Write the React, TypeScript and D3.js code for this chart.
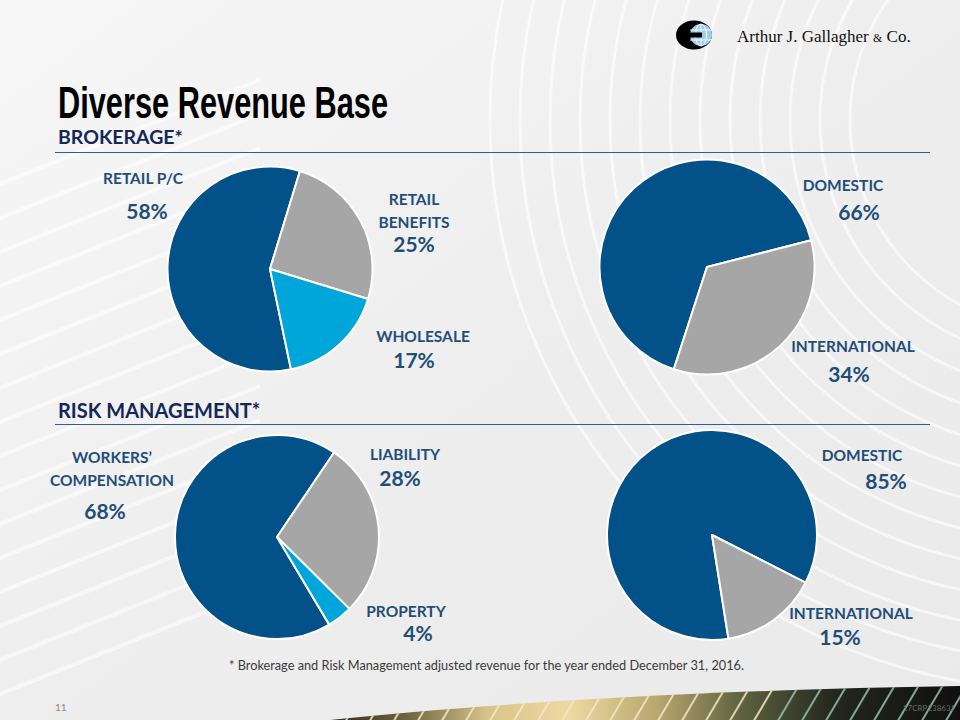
import React from "react";
import * as d3 from "d3";

// ---- data ----
const brokerageLineLabels = ["RETAIL P/C", "RETAIL BENEFITS", "WHOLESALE"];
const brokerageLineValues = [58, 25, 17];
const brokerageGeoLabels = ["DOMESTIC", "INTERNATIONAL"];
const brokerageGeoValues = [66, 34];
const riskLineLabels = ["WORKERS' COMPENSATION", "LIABILITY", "PROPERTY"];
const riskLineValues = [68, 28, 4];
const riskGeoLabels = ["DOMESTIC", "INTERNATIONAL"];
const riskGeoValues = [85, 15];

const BLUE = "#035189";
const GRAY = "#a6a6a6";
const LIGHT = "#00a5da";
const TEXT = "#1f4e79";
const NAVY = "#15285a";

type PieSpec = {
  labels: string[];
  values: number[];
  colors: string[];
  cx: number;
  cy: number;
  r: number;
  start: number; // degrees, clockwise from 12 o'clock
};

const pies: PieSpec[] = [
  { labels: brokerageLineLabels, values: brokerageLineValues, colors: [BLUE, GRAY, LIGHT], cx: 270, cy: 269, r: 102.5, start: 168.2 },
  { labels: brokerageGeoLabels, values: brokerageGeoValues, colors: [BLUE, GRAY], cx: 707, cy: 267, r: 107.5, start: 198 },
  { labels: riskLineLabels, values: riskLineValues, colors: [BLUE, GRAY, LIGHT], cx: 277, cy: 537, r: 102, start: 149.2 },
  { labels: riskGeoLabels, values: riskGeoValues, colors: [BLUE, GRAY], cx: 712, cy: 535, r: 105, start: 171 },
];

type LabelSpec = { pie: number; slice: number; lines: string[]; x: number; y: number; px: number; py: number };
const labelSpecs: LabelSpec[] = [
  { pie: 0, slice: 0, lines: ["RETAIL P/C"], x: 143, y: 184, px: 147, py: 219 },
  { pie: 0, slice: 1, lines: ["RETAIL", "BENEFITS"], x: 414, y: 205, px: 414, py: 252 },
  { pie: 0, slice: 2, lines: ["WHOLESALE"], x: 423, y: 342, px: 414, py: 368 },
  { pie: 1, slice: 0, lines: ["DOMESTIC"], x: 843, y: 191, px: 859, py: 220 },
  { pie: 1, slice: 1, lines: ["INTERNATIONAL"], x: 853, y: 352, px: 849, py: 382 },
  { pie: 2, slice: 0, lines: ["WORKERS\u2019", "COMPENSATION"], x: 112, y: 463, px: 105, py: 519 },
  { pie: 2, slice: 1, lines: ["LIABILITY"], x: 405, y: 460, px: 400, py: 486 },
  { pie: 2, slice: 2, lines: ["PROPERTY"], x: 406, y: 617, px: 418, py: 641 },
  { pie: 3, slice: 0, lines: ["DOMESTIC"], x: 862, y: 461, px: 886, py: 489 },
  { pie: 3, slice: 1, lines: ["INTERNATIONAL"], x: 851, y: 619, px: 840, py: 645 },
];

const LABEL_FONT = "Lato, 'Open Sans', sans-serif";
const SERIF = "'Liberation Serif', 'DejaVu Serif', serif";
const rad = (d: number) => (d * Math.PI) / 180;

function Pie({ spec }: { spec: PieSpec }) {
  const gen = d3
    .pie<number>()
    .sort(null)
    .startAngle(rad(spec.start))
    .endAngle(rad(spec.start + 360));
  const arcs = gen(spec.values);
  const arc = d3.arc<d3.PieArcDatum<number>>().innerRadius(0).outerRadius(spec.r);
  return (
    <g transform={`translate(${spec.cx},${spec.cy})`}>
      {arcs.map((a, i) => (
        <path key={i} d={arc(a) || ""} fill={spec.colors[i]} stroke="#ffffff" strokeWidth={2} strokeLinejoin="round" />
      ))}
    </g>
  );
}

function Background() {
  const arcsR = d3.range(0, 13).map((i) => 210 + i * 30);
  const diag = d3.range(0, 16).map((i) => i * 34);
  const stripes = d3.range(0, 30).map((i) => 320 + i * 24);
  return (
    <g>
      <defs>
        <linearGradient id="bg" x1="0" y1="0" x2="1" y2="1">
          <stop offset="0" stopColor="#f7f7f7" />
          <stop offset="0.5" stopColor="#eeeeee" />
          <stop offset="1" stopColor="#eaeaea" />
        </linearGradient>
        <linearGradient id="band" x1="330" y1="0" x2="960" y2="0" gradientUnits="userSpaceOnUse">
          <stop offset="0" stopColor="#2f2e1c" />
          <stop offset="0.12" stopColor="#6b6440" />
          <stop offset="0.25" stopColor="#d8c38a" />
          <stop offset="0.38" stopColor="#eed9a2" />
          <stop offset="0.52" stopColor="#b8a66e" />
          <stop offset="0.65" stopColor="#5f6442" />
          <stop offset="0.8" stopColor="#23271d" />
          <stop offset="1" stopColor="#101010" />
        </linearGradient>
        <clipPath id="bandClip">
          <path d="M330,720 C480,704 700,690 960,686 L960,720 Z" />
        </clipPath>
      </defs>
      <rect x={0} y={0} width={960} height={720} fill="url(#bg)" />
      <g fill="none" stroke="#ffffff" strokeOpacity={0.6} strokeWidth={3}>
        {arcsR.map((r, i) => (
          <circle key={i} cx={1060} cy={120} r={r} />
        ))}
      </g>
      <g stroke="#ffffff" strokeOpacity={0.55} strokeWidth={4}>
        {diag.map((d, i) => (
          <line key={i} x1={-40} y1={200 + d} x2={260} y2={80 + d} />
        ))}
      </g>
      <path d="M330,720 C480,704 700,690 960,686 L960,720 Z" fill="url(#band)" />
      <g clipPath="url(#bandClip)" strokeOpacity={0.85} strokeWidth={2}>
        {stripes.map((x, i) => (
          <line key={i} x1={x} y1={724} x2={x + 26} y2={680} stroke={x > 760 ? "#8fc2b0" : "#f3e8c4"} />
        ))}
      </g>
    </g>
  );
}

function Logo() {
  return (
    <g>
      <ellipse cx={694} cy={35} rx={18} ry={14.5} fill="#000" />
      <circle cx={701} cy={35} r={11} fill="#9fcdea" />
      <g stroke="#ffffff" strokeWidth={0.9} fill="none">
        <line x1={690} y1={30} x2={712} y2={30} />
        <line x1={690} y1={40} x2={712} y2={40} />
        <line x1={701} y1={24} x2={701} y2={46} />
        <ellipse cx={701} cy={35} rx={5.5} ry={11} />
      </g>
      <rect x={684} y={32.5} width={18} height={5} fill="#000" />
      <text x={737} y={42} fontFamily={SERIF} fontSize={17} fill="#111">
        Arthur J. Gallagher <tspan fontSize={12}>&amp;</tspan> Co.
      </text>
    </g>
  );
}

export default function App() {
  return (
    <svg width={960} height={720} viewBox="0 0 960 720" style={{ display: "block", position: "absolute", left: 0, top: 0 }}>
      <Background />
      <Logo />
      <text
        x={58}
        y={118}
        fontFamily="'Liberation Sans Narrow', 'Liberation Sans', Arial, sans-serif"
        fontWeight={700}
        fontSize={44}
        textLength={330}
        lengthAdjust="spacingAndGlyphs"
        fill="#000"
      >
        Diverse Revenue Base
      </text>
      <text x={58} y={144} fontFamily={LABEL_FONT} fontWeight={700} fontSize={19.5} fill={NAVY}>
        BROKERAGE*
      </text>
      <line x1={55} y1={152.5} x2={930} y2={152.5} stroke="#2c5f8e" strokeWidth={1.2} />
      <text x={58} y={418} fontFamily={LABEL_FONT} fontWeight={700} fontSize={20} fill={NAVY}>
        RISK MANAGEMENT*
      </text>
      <line x1={55} y1={424.5} x2={930} y2={424.5} stroke="#2c5f8e" strokeWidth={1.2} />

      {pies.map((p, i) => (
        <Pie key={i} spec={p} />
      ))}

      {labelSpecs.map((l, i) => (
        <g key={i} fontFamily={LABEL_FONT} fontWeight={700} fill={TEXT} textAnchor="middle">
          {l.lines.map((ln, j) => (
            <text key={j} x={l.x} y={l.y + j * 23} fontSize={15.5}>
              {ln}
            </text>
          ))}
          <text x={l.px} y={l.py} fontSize={21}>
            {`${pies[l.pie].values[l.slice]}%`}
          </text>
        </g>
      ))}

      <text
        x={229}
        y={670}
        fontFamily={LABEL_FONT}
        fontSize={13.5}
        fill="#3a3a3a"
        textLength={515}
        lengthAdjust="spacingAndGlyphs"
      >
        * Brokerage and Risk Management adjusted revenue for the year ended December 31, 2016.
      </text>
      <text x={55} y={711} fontFamily={LABEL_FONT} fontSize={10} fill="#8a8a8a">
        11
      </text>
      <text x={954} y={711} textAnchor="end" fontFamily={LABEL_FONT} fontSize={8} fill="#6a6a6a">
        17CRP23863J
      </text>
    </svg>
  );
}
